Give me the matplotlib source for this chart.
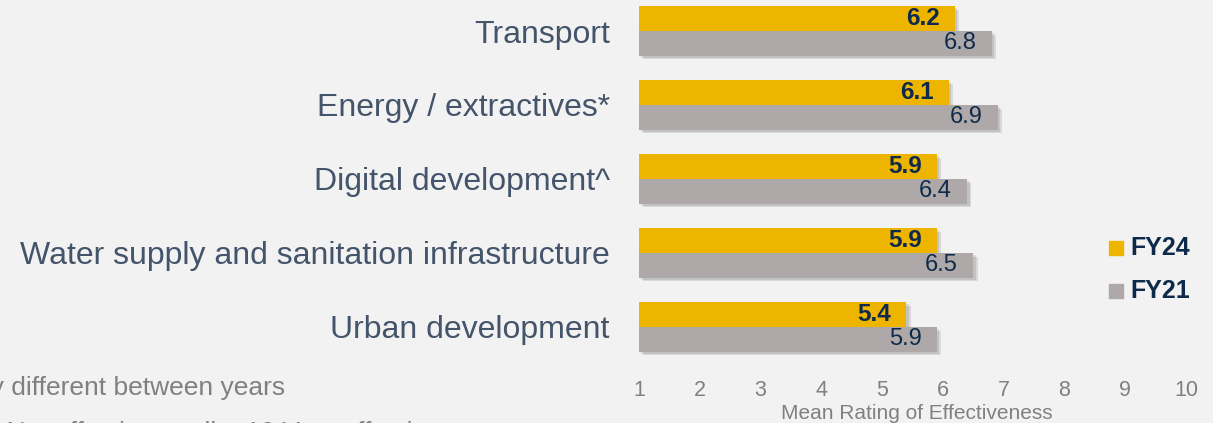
import numpy as np
import matplotlib.pyplot as plt
from matplotlib.patches import Rectangle

plt.rcParams['font.family'] = ['Liberation Sans', 'DejaVu Sans']

# --- Data ---
categories = ["Transport", "Energy / extractives*", "Digital development^",
              "Water supply and sanitation infrastructure", "Urban development"]
fy24 = [6.2, 6.1, 5.9, 5.9, 5.4]
fy21 = [6.8, 6.9, 6.4, 6.5, 5.9]
series_names = ["FY24", "FY21"]
xticks = [1, 2, 3, 4, 5, 6, 7, 8, 9, 10]

# --- Style ---
bg = "#F2F2F2"
c24 = "#EEB500"
c21 = "#AEA9A8"
navy = "#0D2A4B"
cat_col = "#44546A"
tick_col = "#808080"

W, H = 1213, 423
fig = plt.figure(figsize=(W / 100, H / 100), dpi=100, facecolor=bg)
ax = fig.add_axes([639 / W, 1 - 365 / H, 547 / W, 365 / H])
ax.set_facecolor(bg)

y = np.arange(len(categories))[::-1].astype(float)
h = 0.335
base = 1

# soft shadow
for dx, dy, a in [(0.07, -0.05, 0.10), (0.04, -0.03, 0.10)]:
    ax.barh(y + h / 2 + dy, np.array(fy24) - base, left=base + dx, height=h,
            color="black", alpha=a, linewidth=0, zorder=1)
    ax.barh(y - h / 2 + dy, np.array(fy21) - base, left=base + dx, height=h,
            color="black", alpha=a, linewidth=0, zorder=1)

b24 = ax.barh(y + h / 2, np.array(fy24) - base, left=base, height=h, color=c24, zorder=2)
b21 = ax.barh(y - h / 2, np.array(fy21) - base, left=base, height=h, color=c21, zorder=2)

for yi, v in zip(y, fy24):
    ax.annotate(f"{v:.1f}", (v, yi + h / 2), xytext=(-11, 0), textcoords="offset points",
                ha="right", va="center", fontsize=17.5, fontweight="bold", color=navy, zorder=3)
for yi, v in zip(y, fy21):
    ax.annotate(f"{v:.1f}", (v, yi - h / 2), xytext=(-11, 0), textcoords="offset points",
                ha="right", va="center", fontsize=17, color=navy, zorder=3)

ax.set_xlim(1, 10)
ax.set_ylim(-0.514, 4.419)
ax.set_xticks(xticks)
ax.set_xticklabels([str(t) for t in xticks], fontsize=15.5, color=tick_col)
ax.set_yticks(y)
ax.set_yticklabels(categories, fontsize=23, color=cat_col)
ax.tick_params(axis="x", length=0, pad=11)
ax.tick_params(axis="y", length=0, pad=21)
for s in ax.spines.values():
    s.set_visible(False)

fig.text(917 / W, 1 - 413 / H, "Mean Rating of Effectiveness", ha="center", va="center",
         fontsize=15, color=tick_col)

# legend
for i, (name, col) in enumerate(zip(series_names, [c24, c21])):
    yc = 248 + i * 43
    fig.patches.append(Rectangle((1109 / W, 1 - (yc + 7) / H), 14 / W, 14 / H,
                                 transform=fig.transFigure, color=col, figure=fig))
    fig.text(1130 / W, 1 - yc / H, name, ha="left", va="center", fontsize=18,
             fontweight="bold", color=navy)

# footnotes (cropped in the original)
fig.text(285 / W, 1 - 388 / H, "* Significantly different between years", ha="right",
         va="center", fontsize=19, color=tick_col)
fig.text(440 / W, 1 - 433 / H, "Scale: 1 Not effective at all \u2013 10 Very effective",
         ha="right", va="center", fontsize=19, color=tick_col)

fig.savefig("out.png", dpi=100, facecolor=bg)
